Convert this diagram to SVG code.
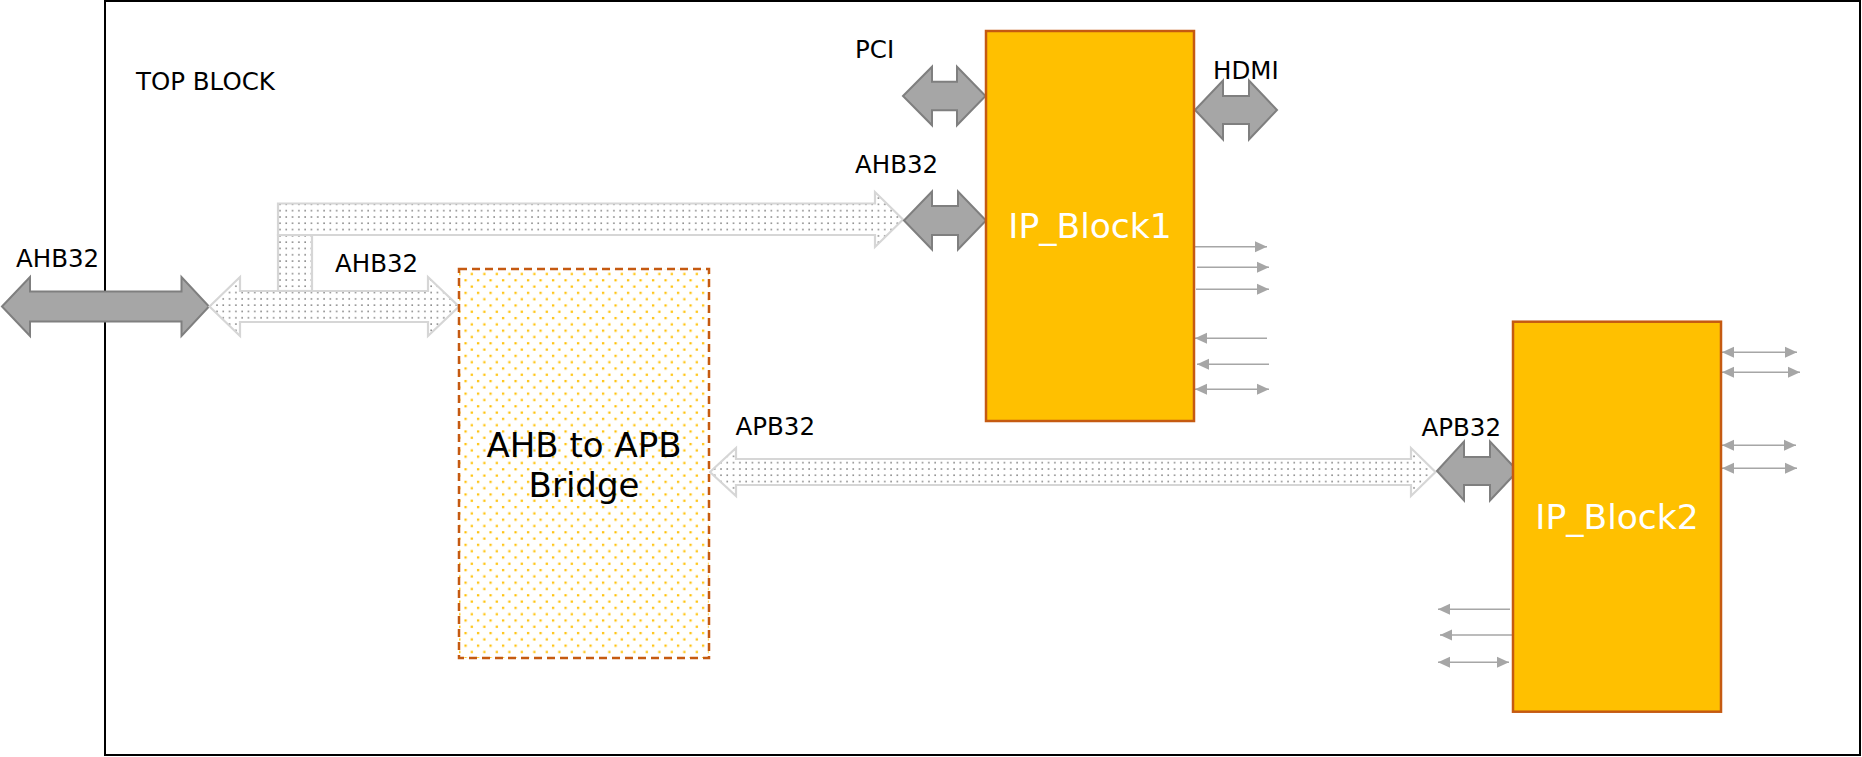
<svg xmlns="http://www.w3.org/2000/svg" width="1862" height="757" viewBox="0 0 1862 757">
<style>
.lbl{font-family:"DejaVu Sans",Verdana,sans-serif;font-size:24.5px;fill:#000}
.big{font-family:"DejaVu Sans",Verdana,sans-serif;font-size:34px;text-anchor:middle}
.ipt{font-size:34.5px}
.dark{fill:#a6a6a6;stroke:#7f7f7f;stroke-width:2;stroke-linejoin:miter}
.light{fill:url(#gdots);stroke:#d6d6d6;stroke-width:2.2;stroke-linejoin:miter}
.sig{stroke:#a6a6a6;stroke-width:1.5;fill:none}
.ip{fill:#FFC000;stroke:#C55A11;stroke-width:2.5}
</style>
<defs>
<pattern id="gdots" width="6.3" height="6.3" patternUnits="userSpaceOnUse">
<rect width="6.3" height="6.3" fill="#ffffff"/>
<rect x="2" y="2" width="1.6" height="1.6" fill="#8c8c8c"/>
</pattern>
<pattern id="ydots" width="12.5" height="12.6" patternUnits="userSpaceOnUse">
<rect width="12.5" height="12.6" fill="#ffffff"/>
<rect x="2" y="2" width="2.2" height="2.2" fill="#FFC000"/>
<rect x="8.25" y="8.3" width="2.2" height="2.2" fill="#FFC000"/>
</pattern>
<marker id="ah" viewBox="0 0 12 12" refX="12" refY="6" markerWidth="12" markerHeight="12" orient="auto-start-reverse" markerUnits="userSpaceOnUse">
<path d="M0,0.5 L12,6 L0,11.5 Z" fill="#a6a6a6"/>
</marker>
</defs>

<g id="top-block">
<rect x="105" y="1" width="1755" height="754" fill="#ffffff" stroke="#000" stroke-width="2"/>
<text class="lbl" x="136" y="90">TOP BLOCK</text>
</g>

<g id="connectors">
<!-- external AHB32 -->
<path class="dark" d="M2,306.5 L30,277 L30,291.5 L181.5,291.5 L181.5,277 L209,306.5 L181.5,336 L181.5,321.5 L30,321.5 L30,336 Z"/>
<!-- internal AHB bus -->
<rect class="light" x="278" y="235" width="34" height="56"/>
<path class="light" d="M278,203.5 L875,203.5 L875,192 L903,219.5 L875,247 L875,235 L278,235 Z"/>
<path class="light" d="M209.5,306.5 L240,277 L240,291 L428,291 L428,277 L459,306.5 L428,336 L428,322 L240,322 L240,336 Z"/>
<!-- APB bus -->
<path class="light" d="M710,472 L736,448 L736,459 L1411,459 L1411,448 L1435.5,472 L1411,496 L1411,485 L736,485 L736,496 Z"/>
<!-- IP_Block1 ports -->
<path class="dark" d="M903,96 L932,66.7 L932,81.8 L957,81.8 L957,66.7 L985.5,96 L957,125.3 L957,110.2 L932,110.2 L932,125.3 Z"/>
<path class="dark" d="M904,220.5 L932,191.5 L932,206 L958,206 L958,191.5 L986,220.5 L958,249.5 L958,235 L932,235 L932,249.5 Z"/>
<path class="dark" d="M1195,110 L1223,80.5 L1223,96 L1249,96 L1249,80.5 L1277,110 L1249,139.5 L1249,124 L1223,124 L1223,139.5 Z"/>
<!-- IP_Block2 port -->
<path class="dark" d="M1437,471 L1464,441.5 L1464,457 L1490,457 L1490,441.5 L1513,466 L1513,476 L1490,500.5 L1490,485 L1464,485 L1464,500.5 Z"/>
<!-- IP_Block1 signals -->
<path class="sig" d="M1195,246.7 H1267" marker-end="url(#ah)"/>
<path class="sig" d="M1197,267.3 H1269" marker-end="url(#ah)"/>
<path class="sig" d="M1196,289.3 H1269" marker-end="url(#ah)"/>
<path class="sig" d="M1195,338.3 H1267" marker-start="url(#ah)"/>
<path class="sig" d="M1197,364.3 H1269" marker-start="url(#ah)"/>
<path class="sig" d="M1195,389.3 H1269" marker-start="url(#ah)" marker-end="url(#ah)"/>
<!-- IP_Block2 signals -->
<path class="sig" d="M1722,352.3 H1797" marker-start="url(#ah)" marker-end="url(#ah)"/>
<path class="sig" d="M1722,372.3 H1800" marker-start="url(#ah)" marker-end="url(#ah)"/>
<path class="sig" d="M1722,445.3 H1796" marker-start="url(#ah)" marker-end="url(#ah)"/>
<path class="sig" d="M1722,468.3 H1797" marker-start="url(#ah)" marker-end="url(#ah)"/>
<path class="sig" d="M1438,609.3 H1510" marker-start="url(#ah)"/>
<path class="sig" d="M1440,635 H1513" marker-start="url(#ah)"/>
<path class="sig" d="M1438,662.3 H1509" marker-start="url(#ah)" marker-end="url(#ah)"/>
</g>

<g id="labels">
<text class="lbl" x="16" y="266.5">AHB32</text>
<text class="lbl" x="335" y="272">AHB32</text>
<text class="lbl" x="855" y="58">PCI</text>
<text class="lbl" x="855" y="173">AHB32</text>
<text class="lbl" x="1213" y="79">HDMI</text>
<text class="lbl" x="735.5" y="435">APB32</text>
<text class="lbl" x="1421.5" y="436">APB32</text>
</g>

<g id="bridge">
<rect x="459" y="269" width="250" height="389" fill="url(#ydots)" stroke="#C55A11" stroke-width="2.5" stroke-dasharray="8,5"/>
<text class="big" x="584" y="456.7" fill="#000">AHB to APB</text>
<text class="big" x="584" y="496.7" fill="#000">Bridge</text>
</g>

<g id="ip-block1">
<rect class="ip" x="986" y="31" width="208" height="390"/>
<text class="big ipt" x="1090" y="238.3" fill="#ffffff">IP_Block1</text>
</g>

<g id="ip-block2">
<rect class="ip" x="1513" y="321.7" width="208" height="390"/>
<text class="big ipt" x="1617" y="529" fill="#ffffff">IP_Block2</text>
</g>
</svg>
